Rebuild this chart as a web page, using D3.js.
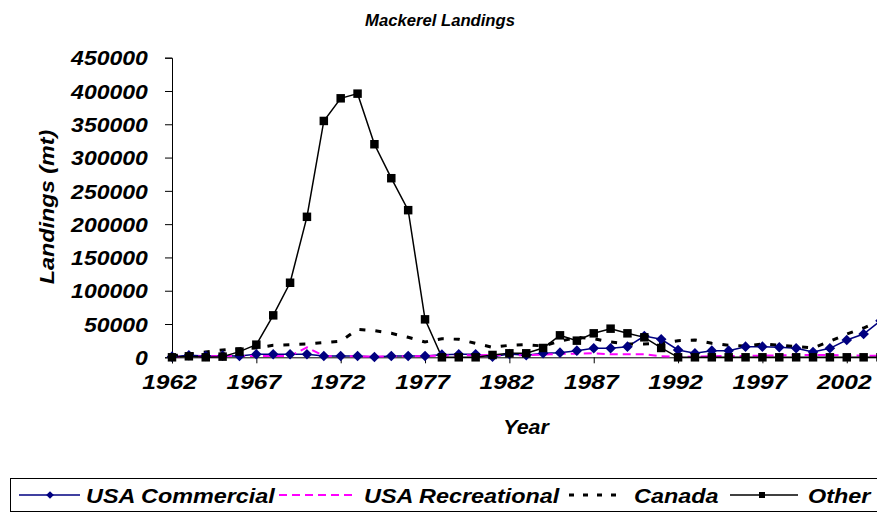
<!DOCTYPE html>
<html><head><meta charset="utf-8">
<script src="https://cdn.jsdelivr.net/npm/d3@7"></script>
<style>
body{margin:0;background:#fff}
svg text{font-family:"Liberation Sans",Arial,sans-serif;font-weight:bold;font-style:italic;fill:#000}
</style>
</head><body>
<svg id="c" width="877" height="514"></svg>
<script>
const years = [1962,1963,1964,1965,1966,1967,1968,1969,1970,1971,1972,1973,1974,1975,1976,1977,1978,1979,1980,1981,1982,1983,1984,1985,1986,1987,1988,1989,1990,1991,1992,1993,1994,1995,1996,1997,1998,1999,2000,2001,2002,2003,2004];
const usaCommercial = [1000,3000,2000,2500,2000,4500,4500,4500,4500,2000,2000,2000,500,2000,2000,2000,4000,4500,4500,1000,5000,3000,6000,7000,10000,13500,13500,16000,32000,27000,11000,6000,10000,10000,16000,16000,15000,13500,8000,13500,26000,35000,55000];
const usaRecreational = [1000,1000,1500,2000,2000,2000,2000,2000,15000,2000,1500,1500,1000,1500,1500,2000,2500,3000,3000,3500,3000,3000,4000,5000,5500,6000,4500,4500,4500,1500,1000,1000,1500,2000,2000,2500,3000,3500,3500,3500,3000,2500,2500];
const canada = [2000,5000,8000,11000,13000,14000,18000,19000,20000,22000,24000,42000,40000,36000,30000,23000,28000,27000,21000,15000,18000,19000,17000,24000,30000,28000,23000,20000,20000,21000,25000,26000,21000,18000,17000,20000,18000,16000,14000,24000,35000,44000,55000];
const other = [0,1500,0,1000,8500,19000,63000,112000,211000,355000,389000,396000,320000,269000,221000,57000,0,0,0,3500,6000,6000,14000,33000,25000,36000,43000,36000,30000,14000,0,0,0,0,0,0,0,0,0,0,0,0,0];
const yTicks = [0,50000,100000,150000,200000,250000,300000,350000,400000,450000];
const xTicks = [1962,1967,1972,1977,1982,1987,1992,1997,2002];
const seriesNames = ["USA Commercial","USA Recreational","Canada","Other"];

const svg = d3.select("#c");
const x = d3.scaleLinear().domain([1962,2004]).range([172,880.5]);
const y = d3.scaleLinear().domain([0,450000]).range([357.3,57.7]);

function stext(t, px, py, size, anchor, sx, rot){
  return svg.append("text").text(t)
    .attr("font-size", size).attr("text-anchor", anchor||"start")
    .attr("transform", `translate(${px},${py})` + (rot?` rotate(${rot})`:"") + ` scale(${sx||1},1)`);
}

// title
stext("Mackerel Landings", 440, 26, 17, "middle", 0.98);

// axes
const gy = svg.append("g").attr("transform","translate(172,0)")
  .call(d3.axisLeft(y).tickValues(yTicks).tickFormat(d3.format("d")).tickSizeOuter(0).tickSize(7).tickPadding(14));
gy.selectAll("text").attr("font-size",20).attr("font-family",null)
  .attr("x",-21).attr("transform","scale(1.15,1)").attr("dy","0.36em");
const gx = svg.append("g").attr("transform","translate(0,357.3)")
  .call(d3.axisBottom(x).tickValues(xTicks).tickFormat(d3.format("d")).tickSizeOuter(0).tickSize(6).tickPadding(11));
gx.selectAll("text").attr("font-size",21).attr("font-family",null).attr("transform","translate(-3,0) scale(1.17,1)");
svg.selectAll(".domain,.tick line").attr("stroke","#000");

stext("Year", 526, 434, 20, "middle", 1.07);
stext("Landings (mt)", 54, 207, 20, "middle", 1.17, -90);

// series
const line = d3.line().x((d,i)=>x(years[i])).y(d=>y(d));
const plot = svg.append("g");
plot.append("path").datum(usaCommercial).attr("d",line).attr("fill","none").attr("stroke","#000080").attr("stroke-width",1.5);
plot.append("path").datum(usaRecreational).attr("d",line).attr("fill","none").attr("stroke","#FF00FF").attr("stroke-width",2).attr("stroke-dasharray","8,5");
plot.append("path").datum(canada).attr("d",line).attr("fill","none").attr("stroke","#000").attr("stroke-width",3).attr("stroke-dasharray","6,10");
plot.append("path").datum(other).attr("d",line).attr("fill","none").attr("stroke","#000").attr("stroke-width",1.5);
plot.selectAll(".dm").data(usaCommercial).enter().append("path")
  .attr("d", d3.symbol().type(d3.symbolSquare).size(56))
  .attr("transform",(d,i)=>`translate(${x(years[i])},${y(d)}) rotate(45)`).attr("fill","#000080");
plot.selectAll(".sq").data(other).enter().append("path")
  .attr("d", d3.symbol().type(d3.symbolSquare).size(72))
  .attr("transform",(d,i)=>`translate(${x(years[i])},${y(d)})`).attr("fill","#000");

// legend
svg.append("rect").attr("x",10.5).attr("y",478.5).attr("width",870).attr("height",33).attr("fill","#fff").attr("stroke","#000");
const ly = 495;
svg.append("line").attr("x1",19).attr("x2",80).attr("y1",ly).attr("y2",ly).attr("stroke","#000080").attr("stroke-width",1.5);
svg.append("path").attr("d", d3.symbol().type(d3.symbolSquare).size(30)).attr("transform",`translate(50,${ly}) rotate(45)`).attr("fill","#000080");
stext(seriesNames[0], 86, 503, 20, "start", 1.17);
svg.append("line").attr("x1",279).attr("x2",352).attr("y1",ly).attr("y2",ly).attr("stroke","#FF00FF").attr("stroke-width",2).attr("stroke-dasharray","8,5");
stext(seriesNames[1], 364, 503, 20, "start", 1.17);
svg.append("line").attr("x1",569).attr("x2",620).attr("y1",ly).attr("y2",ly).attr("stroke","#000").attr("stroke-width",3).attr("stroke-dasharray","5,9");
stext(seriesNames[2], 634, 503, 20, "start", 1.17);
svg.append("line").attr("x1",730).attr("x2",798).attr("y1",ly).attr("y2",ly).attr("stroke","#000").attr("stroke-width",1.5);
svg.append("path").attr("d", d3.symbol().type(d3.symbolSquare).size(36)).attr("transform",`translate(762,${ly})`).attr("fill","#000");
stext(seriesNames[3], 808, 503, 20, "start", 1.17);
</script>
</body></html>
